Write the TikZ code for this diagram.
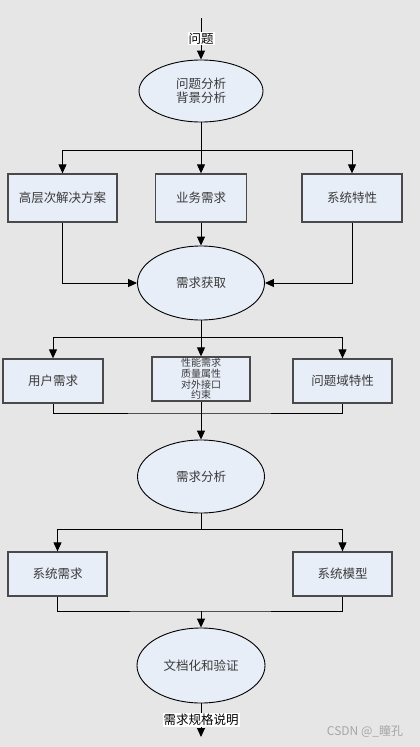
\documentclass[tikz,border=0pt]{standalone}
\usepackage{fontspec}
\newfontfamily\cjk{Noto Sans CJK SC}
\usetikzlibrary{shapes.geometric,arrows.meta}
\definecolor{bg}{HTML}{E6E6E6}
\definecolor{boxfill}{HTML}{E8EEF8}
\definecolor{boxline}{HTML}{4A4A4A}
\definecolor{txt}{HTML}{3A3A3A}
\tikzset{
  box/.style={draw=boxline, line width=1.3pt, fill=boxfill, rectangle, inner sep=0pt,
    minimum height=44pt, text=txt, font=\cjk\fontsize{12.5}{14}\selectfont},
  oval/.style={draw=black, line width=0.9pt, fill=boxfill, ellipse, inner sep=0pt,
    text=txt, align=center, font=\cjk\fontsize{12.5}{14}\selectfont},
  conn/.style={draw=black, line width=0.9pt},
  arr/.style={conn, -{Triangle[length=9pt,width=8pt]}},
  lbl/.style={fill=white, inner sep=1pt, text=black, font=\cjk\fontsize{12.5}{14}\selectfont}
}
\begin{document}
\begin{tikzpicture}[x=1pt,y=-1pt]
\fill[bg] (0,0) rectangle (420,747);
\useasboundingbox (0,0) rectangle (420,747);

\coordinate (start) at (201,18);
\node[oval, minimum width=124pt, minimum height=62pt] (e1) at (201,91) {问题分析\\背景分析};

\node[box, minimum width=109pt, minimum height=48pt] (b1) at (62.5,198) {高层次解决方案};
\node[box, minimum width=91pt, minimum height=48pt] (b2) at (201,198) {业务需求};
\node[box, minimum width=100pt, minimum height=48pt] (b3) at (352,198) {系统特性};

\node[oval, minimum width=127pt, minimum height=74pt] (e2) at (201,283) {需求获取};

\node[box, minimum width=100pt] (c1) at (53,381) {用户需求};
\node[box, minimum width=98pt, align=center, font=\cjk\fontsize{10}{10.7}\selectfont] (c2) at (201,379) {性能需求\\质量属性\\对外接口\\约束};
\node[box, minimum width=99pt] (c3) at (342.5,381) {问题域特性};

\node[oval, minimum width=127pt, minimum height=73pt] (e3) at (201,476.5) {需求分析};

\node[box, minimum width=99pt] (d1) at (57.5,574) {系统需求};
\node[box, minimum width=99pt] (d2) at (342.5,574) {系统模型};

\node[oval, minimum width=128pt, minimum height=75pt] (e4) at (201,665.5) {文档化和验证};
\coordinate (end) at (201,737);

\coordinate (j1) at (201,150);
\coordinate (j2) at (201,337);
\coordinate (j3) at (201,413);
\coordinate (j4) at (201,529);
\coordinate (j5) at (201,611);

% top input
\draw[arr] (start) -- node[lbl, pos=0.5] {问题} (e1.north);

% level 1
\draw[conn] (e1.south) -- (j1);
\draw[arr] (j1) -| (b1.north);
\draw[arr] (j1) -| (b3.north);
\draw[arr] (j1) -- (b2.north);
\draw[arr] (b1.south) |- (e2.west);
\draw[arr] (b3.south) |- (e2.east);
\draw[arr] (b2.south) -- (e2.north);

% level 2
\draw[conn] (e2.south) -- (j2);
\draw[arr] (j2) -| (c1.north);
\draw[arr] (j2) -| (c3.north);
\draw[arr] (j2) -- (c2.north);
\draw[conn] (c1.south) |- (j3) -| (c3.south);
\draw[arr] (c2.south) -- (e3.north);

% level 3
\draw[conn] (e3.south) -- (j4);
\draw[arr] (j4) -| (d1.north);
\draw[arr] (j4) -| (d2.north);
\draw[conn] (d1.south) |- (j5) -| (d2.south);
\draw[arr] (j5) -- (e4.north);

% output
\draw[arr] (e4.south) -- node[lbl, pos=0.5] {需求规格说明} (end);

% watermark
\node[font=\cjk\fontsize{12}{14}\selectfont, text=black!35] (wm) at (365,731) {CSDN @\_瞳孔};
\end{tikzpicture}
\end{document}
